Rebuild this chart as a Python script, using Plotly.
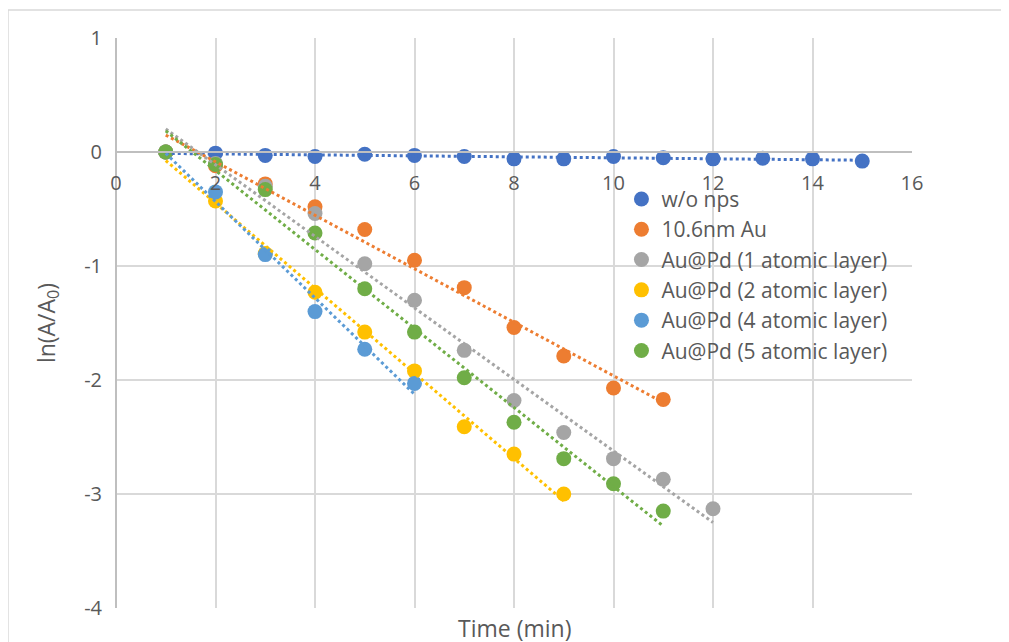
import numpy as np
import plotly.graph_objects as go

# ---- data ----
x_wo = list(range(1, 16))
y_wo = [0, -0.01, -0.03, -0.04, -0.02, -0.03, -0.04, -0.06, -0.06, -0.04, -0.05, -0.06, -0.055, -0.06, -0.08]

x_au = list(range(1, 12))
y_au = [0, -0.12, -0.28, -0.48, -0.68, -0.95, -1.19, -1.54, -1.79, -2.07, -2.17]

x_pd1 = list(range(1, 13))
y_pd1 = [0, -0.10, -0.30, -0.54, -0.98, -1.30, -1.74, -2.18, -2.46, -2.69, -2.87, -3.13]

x_pd2 = list(range(1, 10))
y_pd2 = [0, -0.43, -0.89, -1.23, -1.58, -1.92, -2.41, -2.65, -3.00]

x_pd4 = list(range(1, 7))
y_pd4 = [0, -0.35, -0.90, -1.40, -1.73, -2.03]

x_pd5 = list(range(1, 12))
y_pd5 = [0, -0.11, -0.33, -0.71, -1.20, -1.58, -1.98, -2.37, -2.69, -2.91, -3.15]

names = ["w/o nps", "10.6nm Au", "Au@Pd (1 atomic layer)", "Au@Pd (2 atomic layer)",
         "Au@Pd (4 atomic layer)", "Au@Pd (5 atomic layer)"]
colors = ["#4472C4", "#ED7D31", "#A5A5A5", "#FFC000", "#5B9BD5", "#70AD47"]
series = [(x_wo, y_wo), (x_au, y_au), (x_pd1, y_pd1), (x_pd2, y_pd2), (x_pd4, y_pd4), (x_pd5, y_pd5)]

x_ticks = [0, 2, 4, 6, 8, 10, 12, 14, 16]
y_ticks = [1, 0, -1, -2, -3, -4]

FONT = "'Open Sans', 'Noto Sans', sans-serif"
TXT = "#595959"

fig = go.Figure()

# markers
for (xs, ys), c, n in zip(series, colors, names):
    fig.add_trace(go.Scatter(x=xs, y=ys, mode="markers", name=n,
                             marker=dict(color=c, size=15)))

# trendlines (linear fits), drawn on top like Excel
for (xs, ys), c in zip(series, colors):
    k, b = np.polyfit(xs, ys, 1)
    xl = np.array([min(xs), max(xs)], dtype=float)
    fig.add_trace(go.Scatter(x=xl, y=k * xl + b, mode="lines",
                             line=dict(color=c, width=3, dash="dot"),
                             showlegend=False, hoverinfo="skip"))

fig.update_layout(
    width=1009, height=642,
    margin=dict(l=108, r=105, t=30, b=42),
    paper_bgcolor="white", plot_bgcolor="white",
    font=dict(family=FONT, size=20, color=TXT),
    showlegend=True,
    legend=dict(x=0.635, y=0.753, xanchor="left", yanchor="top",
                bgcolor="rgba(0,0,0,0)", font=dict(size=21, color=TXT),
                itemwidth=30, tracegroupgap=0),
    xaxis=dict(range=[0, 16], tickvals=x_ticks, ticktext=[str(v) for v in x_ticks],
               showgrid=True, gridcolor="#D9D9D9", gridwidth=1.5,
               zeroline=True, zerolinecolor="#BFBFBF", zerolinewidth=1.5,
               showline=True, linecolor="#BFBFBF", linewidth=1.5,
               anchor="free", position=0.8, ticks="", ticklabelstandoff=13,
               tickfont=dict(size=20, color=TXT)),
    yaxis=dict(range=[-4, 1], tickvals=y_ticks, ticktext=[str(v) for v in y_ticks],
               showgrid=True, gridcolor="#D9D9D9", gridwidth=1.5,
               zeroline=False, showline=False, ticks="", ticklabelstandoff=13,
               tickfont=dict(size=20, color=TXT),
               title=dict(text="ln(A/A<sub>0</sub>)", standoff=22,
                          font=dict(size=23, color=TXT))),
    shapes=[dict(type="rect", xref="paper", yref="paper",
                 x0=-0.1357, x1=1.1143, y0=-0.12, y1=1.049,
                 line=dict(color="#D9D9D9", width=1.5), fillcolor="rgba(0,0,0,0)",
                 layer="below")],
    annotations=[dict(text="Time (min)", xref="paper", yref="paper",
                      x=0.5, y=-0.035, xanchor="center", yanchor="middle",
                      showarrow=False, font=dict(size=23, color=TXT))],
)

fig.write_html("out.html")
